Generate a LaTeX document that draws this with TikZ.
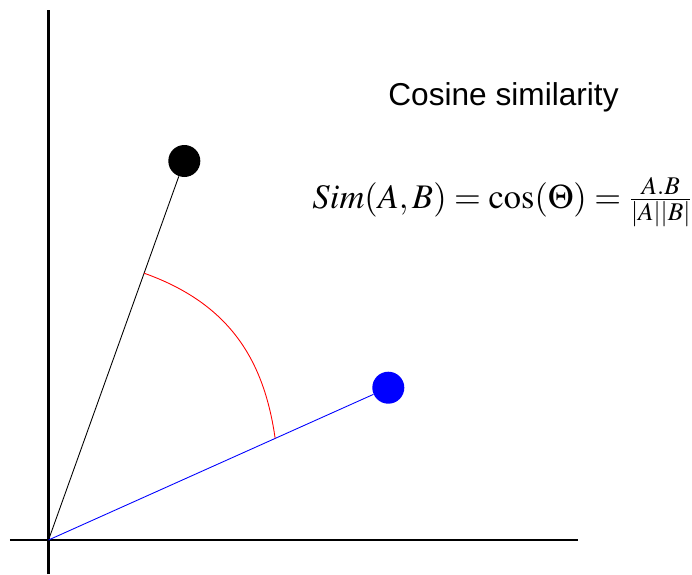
\documentclass[tikz,border=0pt]{standalone}
\usepackage{mathptmx}
\usepackage[no-math]{fontspec}
\newfontfamily\titlefont{Liberation Sans}
\usepackage{tikz}
\usetikzlibrary{calc}

\begin{document}
\begin{tikzpicture}[
    axis/.style={line width=1.3pt},
    vec/.style={line width=0.5pt},
    dot/.style={circle, inner sep=0pt, minimum size=6.4mm},
    title/.style={anchor=base, font=\titlefont\fontsize{18}{21}\selectfont},
    formula/.style={anchor=base, font=\fontsize{19.6}{24}\selectfont}
]
\useasboundingbox (-0.97,-0.68) rectangle (12.87,10.8);
% axes
\coordinate (o) at (0,0);
\coordinate (ybot) at (0,-0.68);
\coordinate (ytop) at (0,10.6);
\coordinate (xleft) at (-0.77,0);
\coordinate (xright) at (10.59,0);
\draw[axis] (ybot) -- (ytop);
\draw[axis] (xleft) -- (xright);
% the two vectors
\node[dot, fill=black] (a) at (2.716,7.58) {};
\node[dot, fill=blue] (b) at (6.796,3.046) {};
\draw[vec] (o) -- (a);
\draw[vec, blue] (o) -- (b);
% angle between them
\coordinate (arcA) at ($(o)!0.704!(a)$);
\coordinate (arcB) at ($(o)!0.667!(b)$);
\draw[vec, red] (arcA) .. controls (3.636,4.722) and (4.312,3.584) .. (arcB);
% labels
\node[title] (ttl) at (9.1,8.69) {Cosine similarity};
\node[formula] (eq) at (9.08,6.64) {$Sim(A,B) = \cos(\Theta) = \frac{A.B}{|A||B|}$};
\end{tikzpicture}
\end{document}
